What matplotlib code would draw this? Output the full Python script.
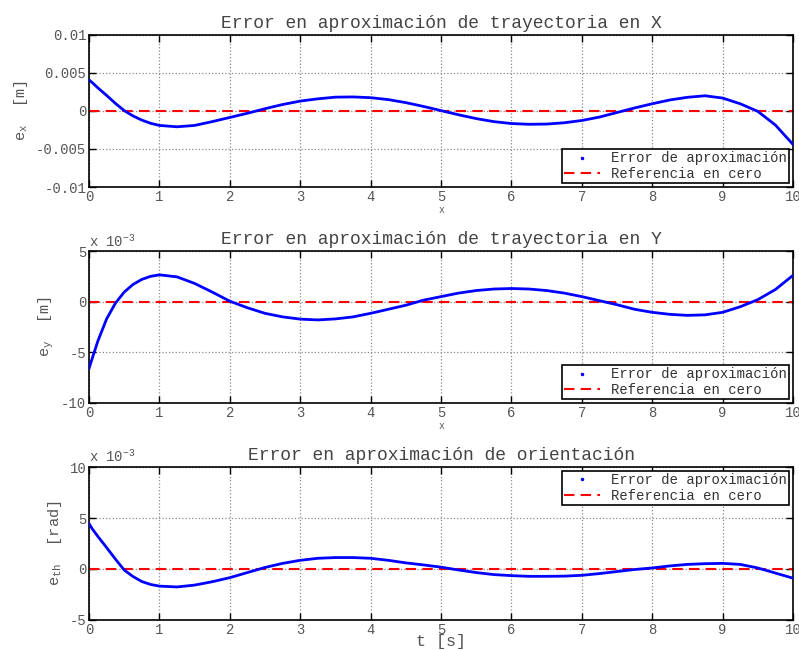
import numpy as np
import matplotlib
matplotlib.use("Agg")
import matplotlib.pyplot as plt
from matplotlib.lines import Line2D

plt.rcParams['font.family'] = ['Liberation Mono', 'DejaVu Sans Mono']
plt.rcParams['mathtext.default'] = 'regular'

# tiempo [s]
t = [0, 0.05, 0.125, 0.25, 0.375, 0.5, 0.625, 0.75, 0.875, 1.0,
     1.25, 1.5, 1.75, 2.0, 2.25, 2.5, 2.75, 3.0, 3.25, 3.5, 3.75, 4.0,
     4.25, 4.5, 4.75, 5.0, 5.25, 5.5, 5.75, 6.0, 6.25, 6.5, 6.75, 7.0,
     7.25, 7.5, 7.75, 8.0, 8.25, 8.5, 8.75, 9.0, 9.25, 9.5, 9.75, 10.0]

# error en x [x 10^-3 m]
ex_mm = [4.1, 3.7, 3.05, 2.05, 1.0, 0.05, -0.65, -1.2, -1.62, -1.9,
         -2.08, -1.9, -1.4, -0.85, -0.3, 0.3, 0.85, 1.3, 1.6, 1.82, 1.85, 1.75,
         1.5, 1.1, 0.6, 0.05, -0.5, -1.0, -1.4, -1.65, -1.75, -1.72, -1.55, -1.25,
         -0.8, -0.2, 0.4, 0.95, 1.45, 1.8, 2.0, 1.7, 0.95, -0.05, -1.85, -4.4]

# error en y [x 10^-3 m]
ey = [-6.6, -5.5, -3.9, -1.7, -0.15, 0.95, 1.7, 2.2, 2.5, 2.65,
      2.45, 1.8, 0.95, 0.05, -0.6, -1.15, -1.5, -1.72, -1.8, -1.7, -1.5, -1.15,
      -0.75, -0.35, 0.15, 0.5, 0.85, 1.1, 1.25, 1.3, 1.25, 1.1, 0.85, 0.5,
      0.1, -0.3, -0.75, -1.05, -1.25, -1.35, -1.3, -1.05, -0.5, 0.2, 1.2, 2.6]

# error en orientacion [x 10^-3 rad]
eth = [4.45, 3.9, 3.2, 2.1, 0.97, -0.1, -0.74, -1.23, -1.52, -1.68,
       -1.76, -1.58, -1.25, -0.85, -0.35, 0.15, 0.55, 0.85, 1.05, 1.12, 1.12, 1.05,
       0.85, 0.6, 0.4, 0.18, -0.1, -0.35, -0.55, -0.65, -0.72, -0.72, -0.7, -0.62,
       -0.45, -0.25, -0.05, 0.1, 0.3, 0.45, 0.52, 0.55, 0.45, 0.1, -0.4, -0.9]

ex = np.array(ex_mm) * 1e-3

titles = ['Error en aproximación de trayectoria en X',
          'Error en aproximación de trayectoria en Y',
          'Error en aproximación de orientación']
ylabels = ['e$_x$  [m]', 'e$_y$  [m]', 'e$_{th}$  [rad]']
ylims = [(-0.01, 0.01), (-10, 5), (-5, 10)]
yticks = [[-0.01, -0.005, 0, 0.005, 0.01], [-10, -5, 0, 5], [-5, 0, 5, 10]]
yticklabels = [['-0.01', '-0.005', '0', '0.005', '0.01'],
               ['-10', '-5', '0', '5'], ['-5', '0', '5', '10']]
leg_loc = ['lower right', 'lower right', 'upper right']

gray = '#555555'
fig = plt.figure(figsize=(7.99, 6.5), dpi=100)
boxes = [[0.1114, 0.7123, 0.8811, 0.2339],
         [0.1114, 0.3800, 0.8811, 0.2338],
         [0.1114, 0.0462, 0.8811, 0.2353]]

for i, y in enumerate([ex, ey, eth]):
    ax = fig.add_axes(boxes[i])
    ax.plot(t, y, color='blue', lw=2, zorder=3, solid_joinstyle='round')
    ax.plot([0, 10], [0, 0], color='red', ls='--', lw=1.5, dashes=(5, 3), zorder=2)
    ax.set_xlim(0, 10)
    ax.set_ylim(*ylims[i])
    ax.set_xticks(range(11))
    ax.set_yticks(yticks[i])
    ax.set_yticklabels(yticklabels[i])
    ax.grid(True, ls=':', color='#8a8a8a', lw=0.9)
    ax.tick_params(direction='in', top=True, right=True, length=5, width=1,
                   labelsize=10, labelcolor=gray, pad=2)
    for s in ax.spines.values():
        s.set_linewidth(1.2)
    ax.set_title(titles[i], fontsize=13, color='#444444', pad=5)
    ax.set_ylabel(ylabels[i], fontsize=11, color=gray, labelpad=4)
    if i < 2:
        ax.set_xlabel('x', fontsize=7, color=gray, labelpad=1)
    else:
        ax.set_xlabel('t [s]', fontsize=12, color=gray, labelpad=-2)
    if i > 0:
        ax.text(0.0, 1.01, 'x 10$^{-3}$', transform=ax.transAxes, fontsize=10,
                color=gray, va='bottom', ha='left')
    handles = [Line2D([], [], color='blue', marker='.', ls='none', markersize=3),
               Line2D([], [], color='red', ls='--', lw=1.5, dashes=(5, 3))]
    leg = ax.legend(handles, ['Error de aproximación', 'Referencia en cero'],
                    loc=leg_loc[i], fontsize=10, fancybox=False, framealpha=1,
                    edgecolor='black', handlelength=2.6, borderpad=0.15,
                    labelspacing=0.1, borderaxespad=0.3, handletextpad=0.8)
    leg.get_frame().set_linewidth(1.2)
    for txt in leg.get_texts():
        txt.set_color('#333333')

fig.savefig('out.png', dpi=100)
